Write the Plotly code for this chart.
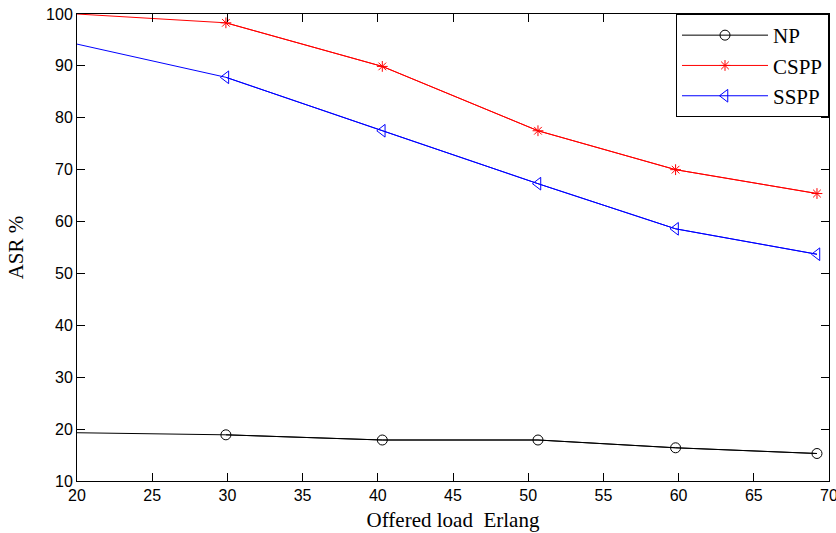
import plotly.graph_objects as go

# Offered load (Erlang) at which each scheme was measured
load = [20, 29.9, 40.3, 50.65, 59.8, 69.2]

# Answer-seizure ratio (%) per scheme
asr_np = [19.3, 18.9, 17.9, 17.9, 16.4, 15.3]
asr_cspp = [100, 98.3, 89.9, 77.5, 70.0, 65.4]
asr_sspp = [94.2, 87.8, 77.5, 67.3, 58.6, 53.7]

series = [
    ("NP", asr_np, "black", "circle-open", 10),
    ("CSPP", asr_cspp, "red", "asterisk-open", 9),
    ("SSPP", asr_sspp, "blue", "triangle-left-open", 11),
]

fig = go.Figure()
for name, vals, color, symbol, size in series:
    # full polyline starting at the left edge (no marker on the first sample)
    fig.add_trace(go.Scatter(
        x=load, y=vals, mode="lines", showlegend=False, hoverinfo="skip",
        line=dict(color=color, width=1),
    ))
    # marked samples, also used for the legend entry
    fig.add_trace(go.Scatter(
        x=load[1:], y=vals[1:], mode="lines+markers", name=name,
        line=dict(color=color, width=1),
        marker=dict(symbol=symbol, size=size, color=color,
                    line=dict(color=color, width=1)),
    ))

tick_font = dict(family="Liberation Sans, Arial, sans-serif", size=16, color="black")
title_font = dict(family="Liberation Serif, Times New Roman, serif", size=21, color="black")

fig.update_layout(
    width=836, height=533,
    margin=dict(l=77, r=7, t=14, b=52, autoexpand=False),
    paper_bgcolor="white", plot_bgcolor="white",
    legend=dict(
        x=1, y=1, xanchor="right", yanchor="top",
        bgcolor="white", bordercolor="black", borderwidth=1,
        font=dict(family="Liberation Serif, Times New Roman, serif", size=21, color="black"),
        itemwidth=86, tracegroupgap=0,
    ),
)
fig.update_xaxes(
    range=[20, 70], dtick=5, tick0=20, automargin=False,
    showgrid=False, zeroline=False,
    showline=True, linecolor="black", linewidth=1, mirror="ticks",
    ticks="inside", ticklen=8, tickcolor="black", tickwidth=1,
    tickfont=tick_font, ticklabeloverflow="allow",
    title=dict(text="Offered load\u00a0 Erlang", font=title_font, standoff=9),
)
fig.update_yaxes(
    range=[10, 100], dtick=10, tick0=10, automargin=False,
    showgrid=False, zeroline=False,
    showline=True, linecolor="black", linewidth=1, mirror="ticks",
    ticks="inside", ticklen=8, tickcolor="black", tickwidth=1,
    tickfont=tick_font, ticklabeloverflow="allow",
    title=dict(text="ASR %", font=title_font, standoff=16),
)

fig.write_html("out.html")
